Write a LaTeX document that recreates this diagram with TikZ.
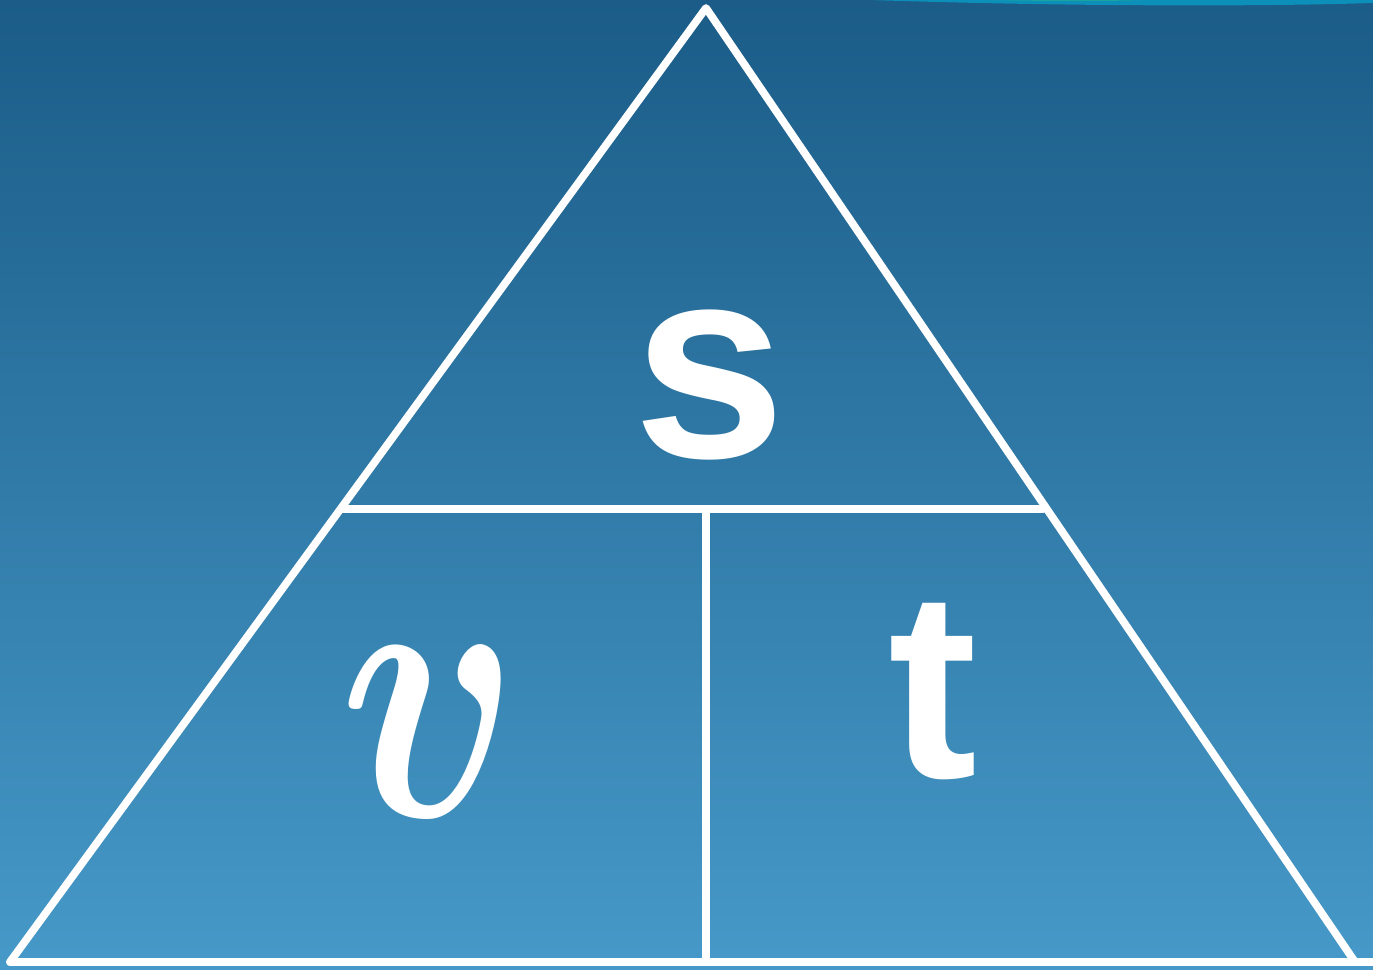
\documentclass[tikz,border=0pt]{standalone}
\usepackage{amsmath}
\usepackage{graphicx}
\usepackage{fontspec}
\setmainfont{Liberation Serif}
\newfontfamily\sansbold[BoldFont={Liberation Sans Bold}]{Liberation Sans}
\definecolor{bgtop}{HTML}{1B5C88}
\definecolor{bgbottom}{HTML}{4699C8}
\definecolor{streak}{HTML}{0C8FB8}
\definecolor{streakgreen}{HTML}{22B08F}
\tikzset{
  edge/.style={white, line width=2.2pt, line cap=round, line join=round},
  letter/.style={white, inner sep=0pt}
}
\begin{document}
\begin{tikzpicture}
\useasboundingbox (0,0) rectangle (13.73,9.69);
\shade[top color=bgtop, bottom color=bgbottom] (0,0) rectangle (13.73,9.69);
% streak at the top
\fill[streak] (8.7,9.69) .. controls (10.5,9.63) and (12.5,9.62) .. (13.73,9.66) -- (13.73,9.69) -- cycle;
\fill[streakgreen] (9.9,9.69) .. controls (10.6,9.68) and (11.1,9.68) .. (11.4,9.69) -- cycle;
\coordinate (apex) at (7.06,9.61);
\coordinate (bl) at (0.10,0.07);
\coordinate (br) at (13.55,0.07);
\coordinate (edge) at (13.73,0.07);
\coordinate (ml) at (3.43,4.60);
\coordinate (mr) at (10.43,4.60);
\coordinate (mt) at (7.06,4.60);
\coordinate (mb) at (7.06,0.07);
\draw[edge] (bl) -- (apex) -- (br);
\draw[edge] (bl) -- (edge);
\draw[edge] (ml) -- (mr);
\draw[edge] (mt) -- (mb);
\node[letter] (s) at (7.10,5.84) {\sansbold\bfseries\fontsize{78}{78}\selectfont s};
\node[letter] (v) at (4.30,2.37) {\scalebox{8.5}[10.8]{$\boldsymbol{v}$}};
\node[letter] (t) at (9.33,2.77) {\sansbold\bfseries\fontsize{76}{76}\selectfont t};
\end{tikzpicture}
\end{document}
